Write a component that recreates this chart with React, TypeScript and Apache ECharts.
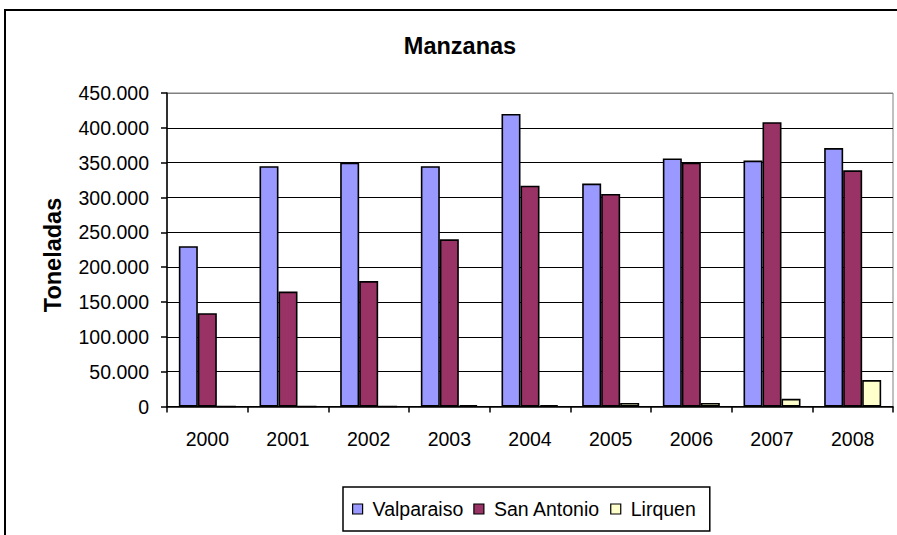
import React, { useEffect, useRef } from "react";
import * as echarts from "echarts";

const categories = ["2000", "2001", "2002", "2003", "2004", "2005", "2006", "2007", "2008"];
const valparaiso = [230000, 345000, 350000, 345000, 420000, 320000, 356000, 353000, 371000];
const sanAntonio = [134000, 165000, 180000, 240000, 317000, 305000, 350000, 408000, 339000];
const lirquen = [0, 0, 0, 2000, 2000, 5000, 5000, 11000, 38000];
const seriesNames = ["Valparaiso", "San Antonio", "Lirquen"];
const seriesColors = ["#9999FF", "#993366", "#FFFFCC"];
const chartTitle = "Manzanas";
const yAxisTitle = "Toneladas";

const FONT = "'Liberation Sans', Arial, sans-serif";

function fmt(v: number): string {
  return String(v).replace(/\B(?=(\d{3})+(?!\d))/g, ".");
}

export default function App() {
  const ref = useRef<HTMLDivElement>(null);
  useEffect(() => {
    if (!ref.current) return;
    const chart = echarts.init(ref.current, null, { renderer: "svg" });
    const dataSets = [valparaiso, sanAntonio, lirquen];
    const splitColors = ["#000", "#000", "#000", "#000", "#000", "#000", "#000", "#000", "#000", "#808080"];
    chart.setOption({
      animation: false,
      backgroundColor: "#fff",
      textStyle: { fontFamily: FONT },
      grid: {
        left: 167,
        top: 93,
        width: 726,
        height: 313.5,
        show: true,
        borderColor: "#808080",
        borderWidth: 1,
        backgroundColor: "#fff",
      },
      legend: {
        data: seriesNames,
        left: 343,
        top: 487,
        orient: "horizontal",
        itemWidth: 10,
        itemHeight: 10,
        itemGap: 10,
        icon: "rect",
        borderColor: "#000",
        borderWidth: 1.5,
        padding: [12, 14, 12, 9],
        itemStyle: { borderColor: "#000", borderWidth: 1.2 },
        textStyle: { fontSize: 19.5, color: "#000", fontFamily: FONT, padding: [0, 0, 0, 5] },
      },
      xAxis: {
        type: "category",
        data: categories,
        axisLine: { lineStyle: { color: "#000", width: 1.5 } },
        axisTick: { show: true, length: 6, lineStyle: { color: "#000", width: 1.5 } },
        axisLabel: { color: "#000", fontSize: 19.5, margin: 22, fontFamily: FONT },
        splitLine: { show: false },
      },
      yAxis: {
        type: "value",
        min: 0,
        max: 450000,
        interval: 50000,
        axisLine: { show: true, lineStyle: { color: "#000", width: 1.5 } },
        axisTick: { show: true, length: 6, lineStyle: { color: "#000", width: 1.5 } },
        axisLabel: { color: "#000", fontSize: 19.5, margin: 18, fontFamily: FONT, formatter: (v: number) => fmt(v) },
        splitLine: { show: true, lineStyle: { color: splitColors, width: 1.2 } },
      },
      series: seriesNames.map((name, i) => ({
        name,
        type: "bar",
        data: dataSets[i],
        barWidth: 19,
        barGap: "0%",
        itemStyle: { color: seriesColors[i], borderColor: "#000", borderWidth: 1.6 },
      })),
      graphic: [
        {
          type: "rect",
          shape: { x: 5, y: 10, width: 920, height: 560 },
          style: { fill: "none", stroke: "#000", lineWidth: 2 },
          silent: true,
          z: 100,
        },
        {
          type: "text",
          x: 460,
          y: 46,
          style: {
            text: chartTitle,
            fill: "#000",
            font: `bold 23.5px ${FONT}`,
            textAlign: "center",
            textVerticalAlign: "middle",
          },
        },
        {
          type: "text",
          x: 53,
          y: 255,
          rotation: Math.PI / 2,
          style: {
            text: yAxisTitle,
            fill: "#000",
            font: `bold 23.5px ${FONT}`,
            textAlign: "center",
            textVerticalAlign: "middle",
          },
        },
      ],
    });
    return () => chart.dispose();
  }, []);
  return (
    <div
      ref={ref}
      style={{ position: "fixed", left: 0, top: 0, width: 897, height: 535, background: "#fff" }}
    />
  );
}
